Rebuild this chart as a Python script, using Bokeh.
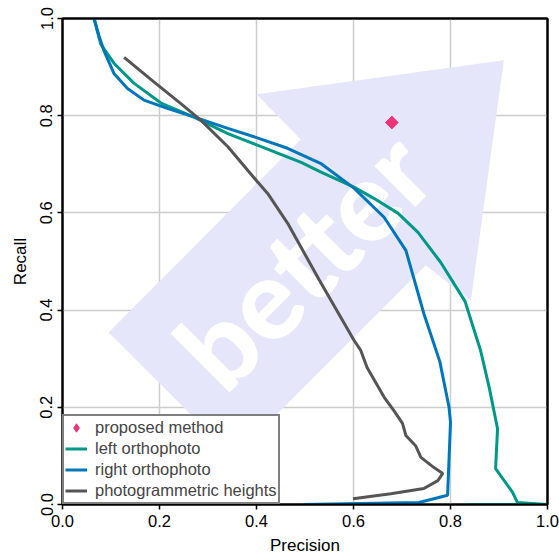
import math
from bokeh.plotting import figure
from bokeh.models import Legend, LegendItem, FixedTicker, PrintfTickFormatter, LinearAxis
from bokeh.core.properties import value
from bokeh.embed import file_html
from bokeh.resources import INLINE

FONT = "Liberation Sans"
BOLD_FONT = "Lato Heavy"

# proposed method
prop_precision = [0.679]
prop_recall = [0.786]

# left orthophoto
left_precision = [0.065, 0.079, 0.106, 0.147, 0.203, 0.271, 0.341, 0.403, 0.492, 0.533,
                  0.601, 0.642, 0.692, 0.733, 0.780, 0.830, 0.862, 0.880, 0.897, 0.893,
                  0.928, 0.938, 1.0, 0.838]
left_recall = [1.0, 0.947, 0.908, 0.867, 0.826, 0.797, 0.763, 0.739, 0.704, 0.684,
               0.653, 0.630, 0.599, 0.560, 0.498, 0.418, 0.317, 0.240, 0.156, 0.074,
               0.025, 0.004, 0.0, 0.0]

# right orthophoto
right_precision = [0.065, 0.075, 0.085, 0.106, 0.134, 0.168, 0.216, 0.272, 0.341, 0.403, 0.464,
                   0.532, 0.601, 0.663, 0.708, 0.745, 0.778, 0.797, 0.800, 0.794, 0.735,
                   0.497]
right_recall = [1.0, 0.965, 0.935, 0.887, 0.856, 0.832, 0.815, 0.797, 0.774, 0.754, 0.733,
                0.702, 0.651, 0.591, 0.523, 0.393, 0.294, 0.200, 0.169, 0.019, 0.004,
                0.0]

# photogrammetric heights
photo_precision = [0.127, 0.189, 0.244, 0.285, 0.341, 0.402, 0.423, 0.464, 0.530, 0.601,
                   0.615, 0.628, 0.663, 0.684, 0.701, 0.708, 0.728, 0.739, 0.766, 0.784,
                   0.774, 0.745, 0.677, 0.599]
photo_recall = [0.920, 0.869, 0.825, 0.791, 0.736, 0.664, 0.640, 0.579, 0.461, 0.338,
                0.317, 0.282, 0.221, 0.192, 0.167, 0.142, 0.121, 0.097, 0.076, 0.064,
                0.049, 0.033, 0.022, 0.012]

ticks = [0.0, 0.2, 0.4, 0.6, 0.8, 1.0]

# "better" arrow annotation outline (data coords)
arrow_x = [0.095, 0.491, 0.400, 0.910, 0.842, 0.749, 0.353]
arrow_y = [0.354, 0.751, 0.844, 0.914, 0.420, 0.492, 0.097]
better_x = [0.494]
better_y = [0.506]
better_text = ["better"]

p = figure(width=559, height=558, x_range=(0, 1), y_range=(0, 1),
           output_backend="svg", toolbar_location=None,
           min_border_left=62, min_border_right=12, min_border_top=18, min_border_bottom=54)

p.background_fill_color = "white"
p.border_fill_color = "white"
p.outline_line_color = "black"
p.outline_line_width = 2
p.outline_line_alpha = 1.0

p.patch(arrow_x, arrow_y, fill_color="#E6E6FA", line_color=None)

p.text(x=better_x, y=better_y, text=better_text, angle=math.pi / 4,
       text_align="center", text_baseline="middle",
       text_font=value(BOLD_FONT), text_font_size="112px",
       text_color="white")

r_left = p.line(left_precision, left_recall, line_color="#009988", line_width=3)
r_right = p.line(right_precision, right_recall, line_color="#0077BB", line_width=3)
r_photo = p.line(photo_precision, photo_recall, line_color="#555555", line_width=3)
r_prop = p.scatter(prop_precision, prop_recall, marker="diamond", size=12.5,
                   fill_color="#EE3377", line_color="#EE3377")
p.scatter(prop_precision, prop_recall, marker="square", size=9, angle=math.pi / 4,
          fill_color="#EE3377", line_color="#EE3377")

for ax in (p.xaxis[0], p.yaxis[0]):
    ax.ticker = FixedTicker(ticks=ticks)
    ax.formatter = PrintfTickFormatter(format="%.1f")
    ax.minor_tick_line_color = None
    ax.major_tick_in = 0
    ax.major_tick_out = 5
    ax.major_tick_line_width = 1.5
    ax.axis_line_width = 2
    ax.axis_line_color = "black"
    ax.major_label_text_font = FONT
    ax.major_label_text_font_size = "16.5px"
    ax.major_label_text_color = "black"
    ax.axis_label_text_font = FONT
    ax.axis_label_text_font_size = "17px"
    ax.axis_label_text_font_style = "normal"
    ax.axis_label_text_color = "black"

p.xaxis.axis_label = "Precision"
p.yaxis.axis_label = "Recall"
p.xaxis.axis_label_standoff = 6
p.yaxis.axis_label_standoff = 8
p.yaxis.major_label_orientation = "vertical"

# plain frame lines on top and right
for side in ("above", "right"):
    fr = LinearAxis(ticker=FixedTicker(ticks=[]), axis_line_color="black", axis_line_width=2,
                    major_tick_line_color=None, minor_tick_line_color=None,
                    major_label_text_font_size="0px")
    p.add_layout(fr, side)

p.xgrid.ticker = FixedTicker(ticks=ticks)
p.ygrid.ticker = FixedTicker(ticks=ticks)
p.grid.grid_line_color = "#CCCCCC"
p.grid.grid_line_width = 1.5

legend = Legend(items=[
    LegendItem(label="proposed method", renderers=[r_prop]),
    LegendItem(label="left orthophoto", renderers=[r_left]),
    LegendItem(label="right orthophoto", renderers=[r_right]),
    LegendItem(label="photogrammetric heights", renderers=[r_photo]),
], location="bottom_left")
legend.margin = 0
legend.padding = 1
legend.spacing = 0
legend.glyph_width = 22
legend.glyph_height = 21
legend.label_height = 21
legend.label_standoff = 8
legend.label_text_font = FONT
legend.label_text_font_size = "16.5px"
legend.border_line_color = "black"
legend.border_line_width = 2
legend.background_fill_color = "white"
legend.background_fill_alpha = 1.0
p.add_layout(legend)

open("out.html", "w").write(file_html(p, INLINE))
